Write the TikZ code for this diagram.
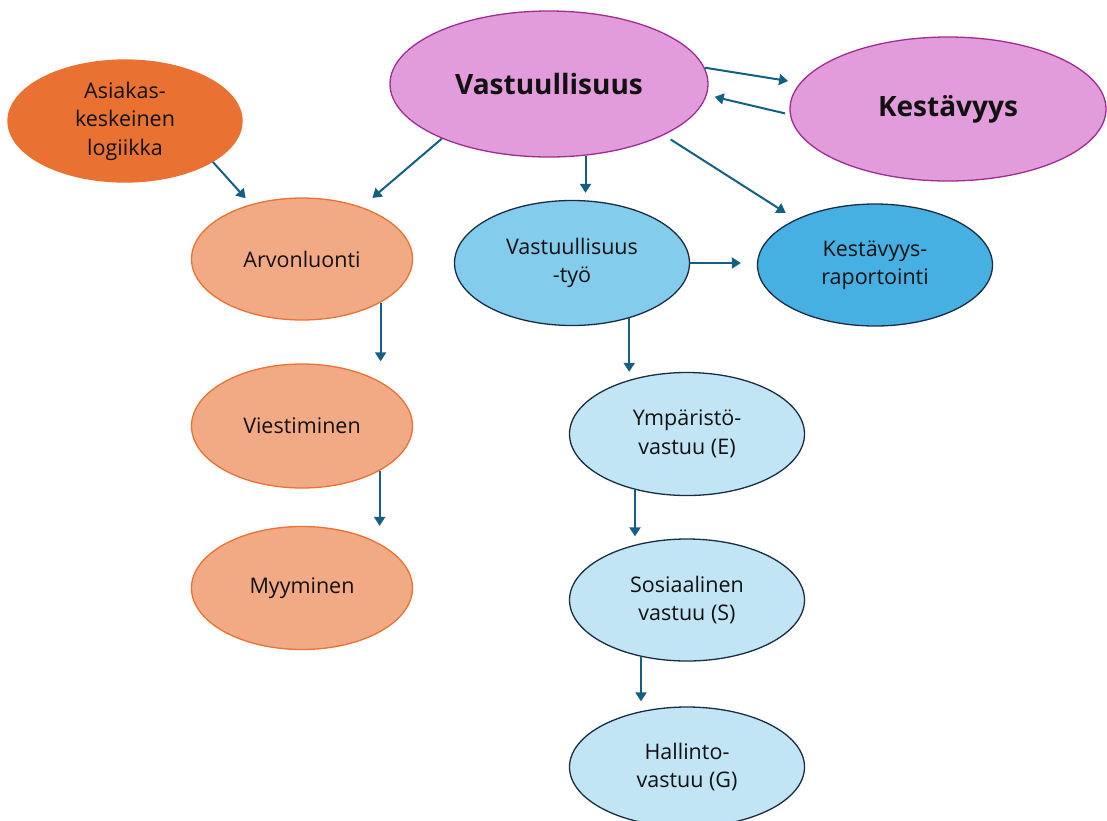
\documentclass[tikz,border=0pt]{standalone}
\usepackage{fontspec}
\setmainfont{Open Sans}
\usetikzlibrary{shapes.geometric,arrows.meta}
\definecolor{pinkfill}{HTML}{E39CDB}
\definecolor{pinkdraw}{HTML}{A02B93}
\definecolor{orfill}{HTML}{E97132}
\definecolor{lorfill}{HTML}{F2AA84}
\definecolor{bluemid}{HTML}{83CCEB}
\definecolor{bluedark}{HTML}{45B0E1}
\definecolor{bluelight}{HTML}{C1E5F5}
\definecolor{navy}{HTML}{1A2D45}
\definecolor{arrowc}{HTML}{156082}
\definecolor{txt}{HTML}{111111}
\tikzset{
  ell/.style={ellipse, inner sep=0pt, line width=1.3pt, align=center, text=txt,
    font=\fontsize{21.5}{28.5}\selectfont},
  big/.style={ell, fill=pinkfill, draw=pinkdraw, font=\fontsize{28}{30}\selectfont\bfseries},
  orange/.style={ell, fill=orfill, draw=orfill},
  lorange/.style={ell, fill=lorfill, draw=orfill},
  bmid/.style={ell, fill=bluemid, draw=navy},
  bdark/.style={ell, fill=bluedark, draw=navy},
  blight/.style={ell, fill=bluelight, draw=navy},
  arr/.style={draw=arrowc, line width=2pt, -{Triangle[length=9pt,width=11pt]}}
}
\begin{document}
\begin{tikzpicture}[x=1pt,y=-1pt]
\useasboundingbox (0,0) rectangle (1107,820);
\node[big, minimum width=318pt, minimum height=146pt] (V) at (549,84) {Vastuullisuus};
\node[big, minimum width=316pt, minimum height=144pt] (K) at (948,109) {Kestävyys};
\node[orange, minimum width=234pt, minimum height=122pt] (A) at (125,121) {Asiakas-\\keskeinen\\logiikka};
\node[lorange, minimum width=221pt, minimum height=122pt] (Arv) at (302,259) {Arvonluonti};
\node[lorange, minimum width=221pt, minimum height=124pt] (Vie) at (302,426) {Viestiminen};
\node[lorange, minimum width=221pt, minimum height=123pt] (Myy) at (302,588) {Myyminen};
\node[bmid, minimum width=235pt, minimum height=125pt] (Tyo) at (572,263) {Vastuullisuus\\-työ};
\node[bdark, minimum width=235pt, minimum height=122pt] (Rap) at (875,265) {Kestävyys-\\raportointi};
\node[blight, minimum width=235pt, minimum height=123pt] (Ymp) at (687,434) {Ympäristö-\\vastuu (E)};
\node[blight, minimum width=235pt, minimum height=122pt] (Sos) at (687,600) {Sosiaalinen\\vastuu (S)};
\node[blight, minimum width=235pt, minimum height=120pt] (Hal) at (687,767) {Hallinto-\\vastuu (G)};

\draw[arr, shorten >=12pt] (V.6) -- (K.170);
\draw[arr, shorten <=5pt, shorten >=8pt] (K.182) -- (V.-4);
\draw[arr, shorten >=14pt] (V.207) -- (Arv.41);
\draw[arr, shorten >=8pt] (A.-25) -- (Arv.133);
\draw[arr, shorten >=7pt] (V.-63) -- (V.-63 |- Tyo.north);
\draw[arr, shorten <=8pt, shorten >=12pt] (V.-24) -- (Rap.150);
\draw[arr, shorten >=16pt] (Tyo.east) -- (Tyo.east -| Rap.west);
\draw[arr, shorten >=2pt] (Arv.-29) -- (Arv.-29 |- Vie.north);
\draw[arr] (Vie.-30) -- (Vie.-30 |- Myy.north);
\draw[arr] (Tyo.-44) -- (Tyo.-44 |- Ymp.north);
\draw[arr, shorten >=2pt] (Ymp.-133) -- (Ymp.-133 |- Sos.north);
\draw[arr, shorten >=5pt] (Sos.-129) -- (Sos.-129 |- Hal.north);
\end{tikzpicture}
\end{document}
